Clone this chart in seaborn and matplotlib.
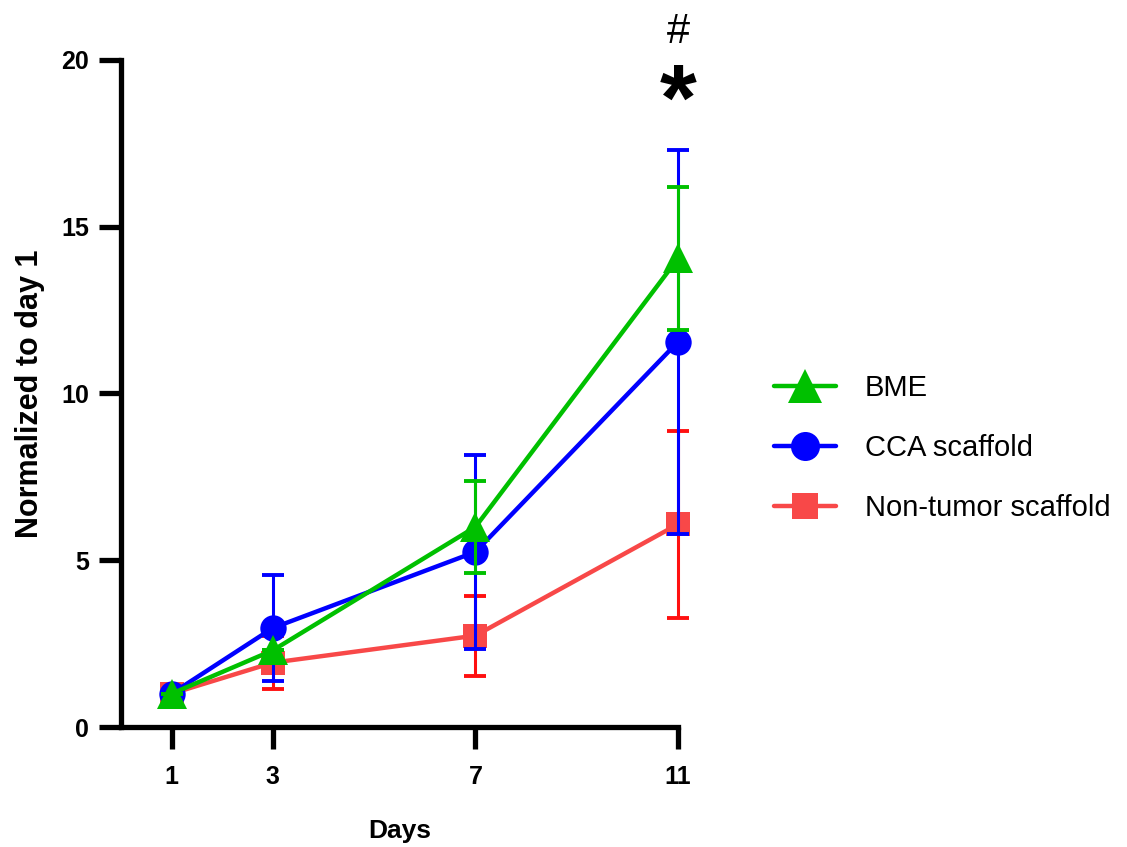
import matplotlib
matplotlib.use("Agg")
import matplotlib.pyplot as plt
import seaborn as sns
import pandas as pd
import numpy as np

days = [1, 3, 7, 11]
series_names = ["BME", "CCA scaffold", "Non-tumor scaffold"]

bme_mean = [1.0, 2.3, 6.0, 14.05]
bme_sd = [0.0, 0.0, 1.37, 2.15]

cca_mean = [1.0, 2.97, 5.25, 11.55]
cca_sd = [0.0, 1.6, 2.9, 5.75]

non_mean = [1.0, 1.93, 2.74, 6.08]
non_sd = [0.0, 0.8, 1.2, 2.8]

x_ticks = [1, 3, 7, 11]
y_ticks = [0, 5, 10, 15, 20]
x_label = "Days"
y_label = "Normalized to day 1"
annot_hash = "#"
annot_star = "*"

sns.set_theme(style="white")
plt.rcParams["font.family"] = ["Liberation Sans", "DejaVu Sans"]
plt.rcParams["text.color"] = "black"

fig = plt.figure(figsize=(11.27, 8.47), dpi=100)
ax = fig.add_axes([121 / 1127, 1 - 727 / 847, (678 - 121) / 1127, (727 - 60) / 847])

styles = {
    "BME": dict(color="#00C000", ecolor="#00C000", marker="^", ms=22),
    "CCA scaffold": dict(color="#0000FF", ecolor="#0000FF", marker="o", ms=19),
    "Non-tumor scaffold": dict(color="#F84848", ecolor="#FF1010", marker="s", ms=17),
}
data = {
    "BME": (bme_mean, bme_sd),
    "CCA scaffold": (cca_mean, cca_sd),
    "Non-tumor scaffold": (non_mean, non_sd),
}

handles = {}
for z, name in enumerate(["Non-tumor scaffold", "CCA scaffold", "BME"]):
    mean, sd = data[name]
    st = styles[name]
    df = pd.DataFrame({"Days": days, "value": mean})
    eb = ax.errorbar(days, mean, yerr=sd, fmt="none", ecolor=st["ecolor"],
                     elinewidth=2.2, capsize=8, capthick=2.8, zorder=2 + 2 * z)
    for art in eb.lines[1] + eb.lines[2]:
        art.set_clip_on(False)
    sns.lineplot(data=df, x="Days", y="value", ax=ax, color=st["color"],
                 marker=st["marker"], markersize=st["ms"], markeredgewidth=0,
                 linewidth=3.2, label=name, zorder=3 + 2 * z, legend=False)
    ln = ax.lines[-1]
    ln.set_clip_on(False)
    handles[name] = ln

ax.set_xlim(0, 11)
ax.set_ylim(0, 20)
ax.set_xticks(x_ticks)
ax.set_yticks(y_ticks)
ax.set_xticklabels([str(t) for t in x_ticks])
ax.set_yticklabels([str(t) for t in y_ticks])

for s in ["top", "right"]:
    ax.spines[s].set_visible(False)
for s in ["left", "bottom"]:
    ax.spines[s].set_linewidth(3.8)
    ax.spines[s].set_color("black")
    ax.spines[s].set_capstyle("projecting")

ax.tick_params(axis="both", which="major", bottom=True, left=True, direction="out",
               length=16, width=3.8, color="black", labelsize=18, labelcolor="black")
ax.tick_params(axis="x", pad=11)
ax.tick_params(axis="y", pad=7)
for lab in ax.get_xticklabels() + ax.get_yticklabels():
    lab.set_fontweight("bold")

ax.set_xlabel(x_label, fontsize=19, fontweight="bold", labelpad=22, color="black")
ax.set_ylabel(y_label, fontsize=22, fontweight="bold", labelpad=12, color="black")
ax.grid(False)

ax.text(11, 20.85, annot_hash, ha="center", va="center", fontsize=30,
        color="black", clip_on=False)
ax.text(11, 18.65, annot_star, ha="center", va="center", fontsize=68,
        fontweight="bold", color="black", clip_on=False)

leg = fig.legend([handles[n] for n in series_names], series_names,
                 loc="center left", bbox_to_anchor=(748 / 1127, 1 - 448 / 847),
                 frameon=False, fontsize=21, handlelength=2.1, handletextpad=1.0,
                 labelspacing=1.1, markerscale=1.1)
for t in leg.get_texts():
    t.set_color("black")

fig.savefig("out.png", dpi=100)
